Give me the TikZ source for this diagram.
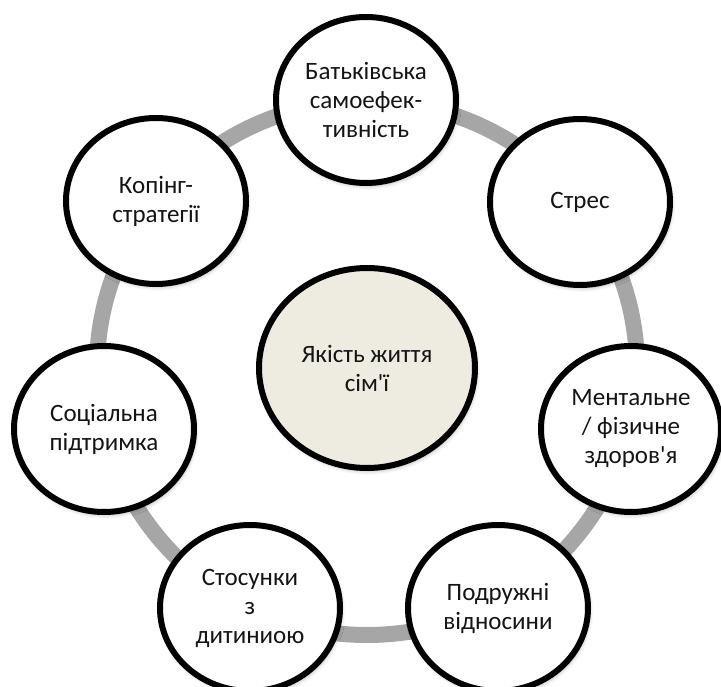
\documentclass[tikz,border=0pt]{standalone}
\usepackage{fontspec}
\setmainfont{Carlito}[Ligatures=TeXOff]
\usetikzlibrary{shapes.geometric,shadows.blur}
\definecolor{ringgray}{RGB}{166,166,166}
\definecolor{centerfill}{RGB}{238,236,225}
\definecolor{inkgray}{RGB}{20,20,20}
\begin{document}
\begin{tikzpicture}[x=1pt,y=-1pt,
  bubble/.style={ellipse, draw=black, line width=6pt, fill=white,
    minimum width=180pt, minimum height=166pt, inner sep=0pt,
    align=center, text=inkgray, font=\fontsize{25}{29}\selectfont,
    blur shadow={shadow xshift=1.5pt, shadow yshift=-3pt, shadow blur radius=4pt, shadow opacity=30}},
  core/.style={bubble, fill=centerfill, minimum width=216pt, minimum height=200pt},
  ring/.style={draw=ringgray, line width=16pt}]
\useasboundingbox (0,0) rectangle (721,687);
\coordinate (o) at (367,368);
\draw[ring] (o) ellipse [x radius=270pt, y radius=267pt];
\node[core] (c) at (o) {Якість життя\\сім'ї};
\node[bubble] (n1) at (366,100) {Батьківська\\самоефек-\\тивність};
\node[bubble] (n2) at (580,202) {Стрес};
\node[bubble] (n3) at (631,429) {Ментальне\\/ фізичне\\здоров'я};
\node[bubble] (n4) at (498,608) {Подружні\\відносини};
\node[bubble] (n5) at (250,608) {Стосунки\\з\\дитиниою};
\node[bubble] (n6) at (104,429) {Соціальна\\підтримка};
\node[bubble] (n7) at (156,201) {Копінг-\\стратегії};
\end{tikzpicture}
\end{document}
